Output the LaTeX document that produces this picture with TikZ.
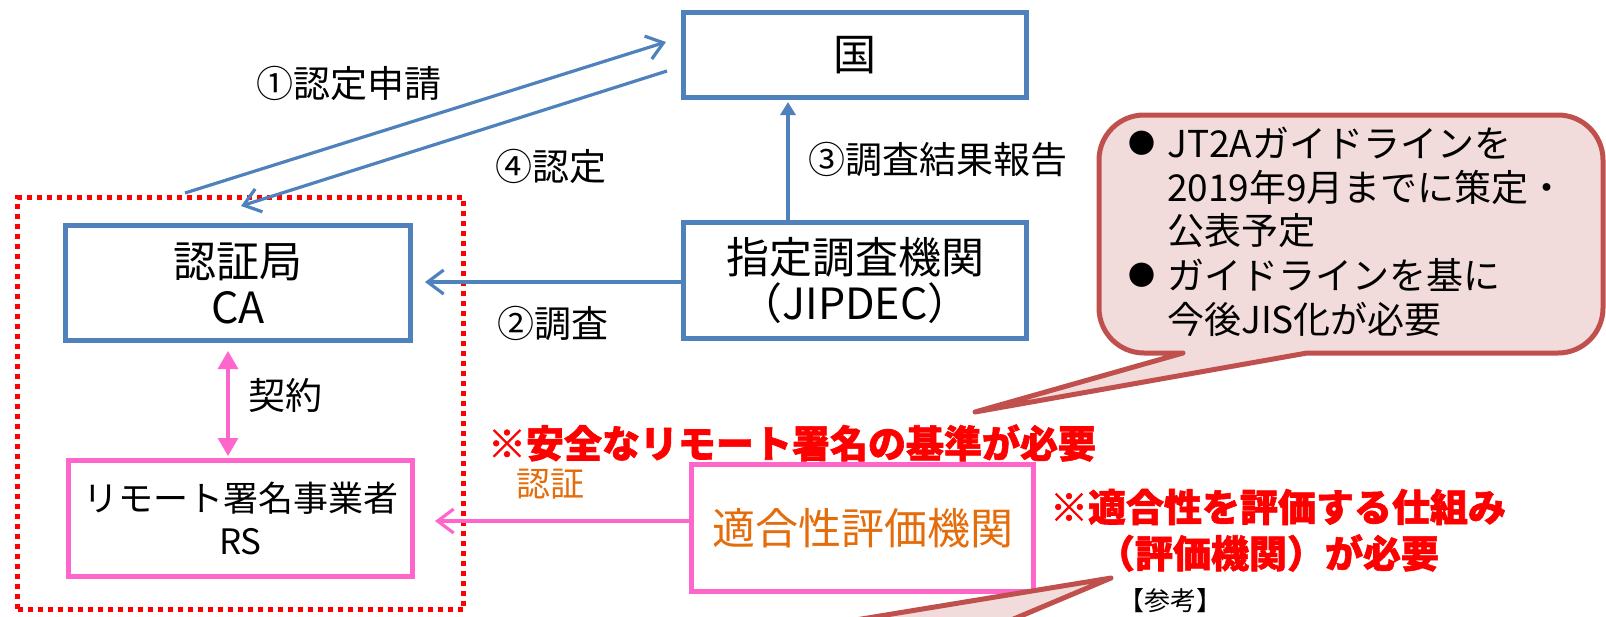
\documentclass[tikz,border=0pt]{standalone}
\usepackage{fontspec}
\setmainfont{Noto Sans CJK JP}
\newfontfamily\heavyfont{Noto Sans CJK JP}[BoldFeatures={FakeBold=1.6}]
\usetikzlibrary{arrows.meta}
\definecolor{boxblue}{HTML}{4F81BD}
\definecolor{pinkc}{HTML}{FF66CC}
\definecolor{coline}{HTML}{C0504D}
\definecolor{cofill}{HTML}{F2DCDB}
\definecolor{orangec}{HTML}{E46C0A}
\newcommand\fsBody{\fontsize{43}{46}\selectfont}
\newcommand\fsLbl{\fontsize{37}{40}\selectfont}
\newcommand\fsRS{\fontsize{35}{43}\selectfont}
\newcommand\fsRed{\fontsize{38}{44}\heavyfont\bfseries}
\begin{document}
\begin{tikzpicture}[x=1pt,y=-1pt,
 bluebox/.style={draw=boxblue,line width=5pt,inner sep=0pt,align=center,font=\fsBody},
 pinkbox/.style={draw=pinkc,line width=5pt,inner sep=0pt,align=center},
 lbl/.style={inner sep=0pt,font=\fsLbl},
 openhead/.style={-{Straight Barb[length=16pt,width=24pt]}},
 bline/.style={draw=boxblue,line width=3.2pt},
 pline/.style={draw=pinkc,line width=3.2pt},
 cotext/.style={inner sep=0pt,anchor=west,font=\fsLbl},
 bullet/.style={inner sep=0pt,font=\fontsize{27}{28}\selectfont},
 redtxt/.style={inner sep=0pt,text=red,font=\fsRed},
 callout/.style={draw=coline,fill=cofill,line width=5pt,line join=round}]
\useasboundingbox (0,0) rectangle (1606,616);
\clip (0,0) rectangle (1606,616);

% boxes
\node[bluebox,minimum width=343pt,minimum height=85pt] (guo) at (855,55) {国};
\node[bluebox,minimum width=343pt,minimum height=116pt] (jip) at (855,280.5) {指定調査機関\\（JIPDEC）};
\node[bluebox,minimum width=345pt,minimum height=115pt] (ca) at (238,283) {認証局\\CA};
\node[pinkbox,font=\fsRS,minimum width=344pt,minimum height=116pt] (rs) at (240.5,518.5) {リモート署名事業者\\RS};
\node[pinkbox,font=\fsBody,text=orangec,minimum width=342pt,minimum height=127pt] (tek) at (862.5,528) {適合性評価機関};
\node[draw=red,line width=4.5pt,dash pattern=on 5pt off 5pt,minimum width=446pt,minimum height=412pt,inner sep=0pt] (grp) at (240.5,403.5) {};

% arrows
\coordinate (a1s) at (185,193);
\coordinate (a1e) at (666,42);
\draw[bline,openhead] (a1s) -- (a1e);
\coordinate (a4s) at (667,71);
\coordinate (a4e) at (241,206);
\draw[bline,openhead] (a4s) -- (a4e);
\coordinate (x3) at (788,0);
\draw[bline,-{Triangle[length=13pt,width=15pt]},shorten >=2pt] (jip.north -| x3) -- (guo.south -| x3);
\coordinate (x2) at (0,282);
\draw[bline,openhead,shorten >=12pt] (jip.west |- x2) -- (ca.east |- x2);
\coordinate (x5) at (228,0);
\draw[pline,{Triangle[length=18pt,width=20pt]}-{Triangle[length=18pt,width=20pt]},shorten <=8pt,shorten >=2pt] (ca.south -| x5) -- (rs.north -| x5);
\coordinate (x6) at (0,521);
\draw[pline,openhead,shorten >=20pt] (tek.west |- x6) -- (rs.east |- x6);

% labels
\node[lbl] (l1) at (349,83) {①認定申請};
\node[lbl] (l4) at (551,166) {④認定};
\node[lbl] (l3) at (938,159) {③調査結果報告};
\node[lbl] (l2) at (553,323) {②調査};
\node[lbl] (lk) at (285,395) {契約};
\node[lbl,text=orangec,font=\fontsize{34}{36}\selectfont] (ln) at (550,484) {認証};

% callouts
\filldraw[callout] (975,412) -- (1183,353) -- (1144,353) arc[start angle=90,end angle=180,radius=45] -- (1099,160) arc[start angle=180,end angle=270,radius=45] -- (1558,115) arc[start angle=270,end angle=360,radius=45] -- (1603,308) arc[start angle=0,end angle=90,radius=45] -- (1307,353) -- cycle;
\filldraw[callout] (1111,578) -- (673,650) -- (940,650) -- cycle;

\node[bullet] (b1) at (1142,143) {●};
\node[cotext] (c1) at (1167,143) {JT2Aガイドラインを};
\node[cotext] (c2) at (1167,187) {2019年9月までに策定・};
\node[cotext] (c3) at (1167,231) {公表予定};
\node[bullet] (b2) at (1142,275) {●};
\node[cotext] (c4) at (1167,275) {ガイドラインを基に};
\node[cotext] (c5) at (1167,319) {今後JIS化が必要};

% red notes
\node[redtxt] (r1) at (792,443) {※安全なリモート署名の基準が必要};
\node[redtxt] (r2) at (1278,507) {※適合性を評価する仕組み};
\node[redtxt] (r3) at (1268,553) {（評価機関）が必要};
\node[inner sep=0pt,font=\fontsize{26}{28}\selectfont] (ref) at (1170,601) {【参考】};
\end{tikzpicture}
\end{document}
